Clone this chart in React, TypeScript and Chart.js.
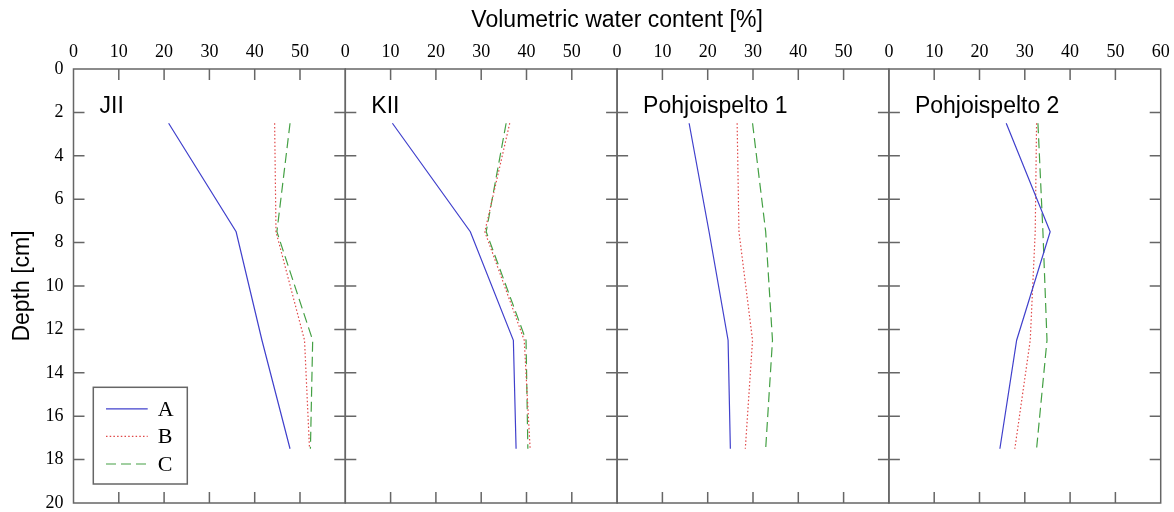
import React, { useEffect, useRef } from 'react';
import { Chart, registerables } from 'chart.js';

Chart.register(...registerables);

// ---- data ----
const depths = [2.5, 7.5, 12.5, 17.5];
const panelNames = ['JII', 'KII', 'Pohjoispelto 1', 'Pohjoispelto 2'];
const seriesNames = ['A', 'B', 'C'];

const jiiA = [21.0, 35.9, 41.6, 47.8];
const jiiB = [44.4, 44.7, 51.0, 52.1];
const jiiC = [47.8, 44.9, 52.8, 52.3];

const kiiA = [10.4, 27.6, 37.1, 37.7];
const kiiB = [36.3, 30.8, 39.5, 40.8];
const kiiC = [35.5, 31.1, 39.9, 40.3];

const p1A = [15.9, 20.3, 24.5, 25.0];
const p1B = [26.5, 26.9, 29.9, 28.3];
const p1C = [29.9, 32.8, 34.3, 32.8];

const p2A = [25.9, 35.6, 28.2, 24.5];
const p2B = [32.6, 32.3, 31.2, 27.8];
const p2C = [32.9, 34.0, 34.9, 32.6];

const panelSeries = [
  [jiiA, jiiB, jiiC],
  [kiiA, kiiB, kiiC],
  [p1A, p1B, p1C],
  [p2A, p2B, p2C],
];

const xTicks = [0, 10, 20, 30, 40, 50, 60];
const yTicks = [0, 2, 4, 6, 8, 10, 12, 14, 16, 18, 20];
const xTitle = 'Volumetric water content [%]';
const yTitle = 'Depth [cm]';

// ---- styles ----
const W = 1174;
const H = 512;
const PANEL_W = 271.8;
const FIRST_LEFT = 73.5;
const TOP = 69;
const BOTTOM = 503;
const FRAME = '#666666';
const SANS = '"Liberation Sans", Arial, sans-serif';
const SERIF = '"Liberation Serif", "Times New Roman", serif';

const seriesStyles = [
  { color: '#4040cc', dash: [] as number[] },
  { color: '#e04848', dash: [1.5, 2.2] },
  { color: '#44a044', dash: [10, 5] },
];

const TICK_LEN = 11;

const decorPlugin = {
  id: 'panelDecor',
  afterDatasetsDraw(chart: any, _args: any, opts: any) {
    const { ctx, chartArea } = chart;
    const { left, right, top, bottom } = chartArea;
    const xs = chart.scales.x;
    const ys = chart.scales.y;
    ctx.save();
    // frame
    ctx.strokeStyle = FRAME;
    ctx.lineWidth = 1.5;
    ctx.setLineDash([]);
    ctx.strokeRect(left, top, right - left, bottom - top);
    // inward ticks
    ctx.beginPath();
    xs.ticks.forEach((t: any) => {
      if (t.value <= xs.min || t.value >= xs.max) return;
      const px = xs.getPixelForValue(t.value);
      ctx.moveTo(px, top);
      ctx.lineTo(px, top + TICK_LEN);
      ctx.moveTo(px, bottom);
      ctx.lineTo(px, bottom - TICK_LEN);
    });
    ys.ticks.forEach((t: any) => {
      if (t.value <= ys.min || t.value >= ys.max) return;
      const py = ys.getPixelForValue(t.value);
      ctx.moveTo(left, py);
      ctx.lineTo(left + TICK_LEN, py);
      ctx.moveTo(right, py);
      ctx.lineTo(right - TICK_LEN, py);
    });
    ctx.stroke();

    // panel label
    ctx.fillStyle = '#000';
    ctx.font = `23px ${SANS}`;
    ctx.textAlign = 'left';
    ctx.textBaseline = 'alphabetic';
    ctx.fillText(opts.label, left + 26, top + 44);

    // shared axis title
    if (opts.title) {
      ctx.textAlign = 'center';
      ctx.fillText(opts.title, (FIRST_LEFT + FIRST_LEFT + 4 * PANEL_W) / 2, 27);
    }

    // legend
    if (opts.legend) {
      const bx = left + 19.8;
      const by = bottom - 115.7;
      const bw = 94;
      const bh = 96.7;
      ctx.fillStyle = '#fff';
      ctx.fillRect(bx, by, bw, bh);
      ctx.strokeStyle = FRAME;
      ctx.lineWidth = 1.5;
      ctx.strokeRect(bx, by, bw, bh);
      ctx.font = `22px ${SERIF}`;
      ctx.textAlign = 'left';
      ctx.textBaseline = 'middle';
      chart.data.datasets.forEach((ds: any, i: number) => {
        const y = by + 21.5 + i * 27.6;
        ctx.strokeStyle = ds.borderColor;
        ctx.lineWidth = 1.2;
        ctx.setLineDash(ds.borderDash || []);
        ctx.beginPath();
        ctx.moveTo(bx + 12.7, y);
        ctx.lineTo(bx + 54.4, y);
        ctx.stroke();
        ctx.fillStyle = '#000';
        ctx.fillText(ds.label, bx + 64.5, y + 1);
      });
    }
    ctx.restore();
  },
};

function Panel({ index }: { index: number }) {
  const ref = useRef<HTMLCanvasElement | null>(null);
  useEffect(() => {
    const canvas = ref.current;
    if (!canvas) return;
    const left = FIRST_LEFT + PANEL_W * index;
    const right = left + PANEL_W;
    const isFirst = index === 0;
    const isLast = index === panelNames.length - 1;
    const datasets = panelSeries[index].map((vals, s) => ({
      label: seriesNames[s],
      data: vals.map((v, k) => ({ x: v, y: depths[k] })),
      showLine: true,
      borderColor: seriesStyles[s].color,
      backgroundColor: seriesStyles[s].color,
      borderDash: seriesStyles[s].dash,
      borderWidth: 1.2,
      pointRadius: 0,
      tension: 0,
    }));
    const chart = new Chart(canvas, {
      type: 'scatter',
      data: { datasets },
      plugins: [decorPlugin],
      options: {
        responsive: false,
        animation: false,
        devicePixelRatio: 1,
        layout: { padding: { left: 0, right: W - right, top: 0, bottom: H - BOTTOM } },
        plugins: {
          legend: { display: false },
          tooltip: { enabled: false },
          panelDecor: { label: panelNames[index], legend: isFirst, title: isFirst ? xTitle : null },
        } as any,
        scales: {
          x: {
            type: 'linear',
            position: 'top',
            min: 0,
            max: 60,
            afterBuildTicks: (s: any) => {
              s.ticks = xTicks.map((v) => ({ value: v }));
            },
            afterFit: (s: any) => {
              s.height = TOP;
              s.paddingLeft = 0;
              s.paddingRight = 0;
              s.paddingTop = 0;
              s.paddingBottom = 0;
            },
            ticks: {
              autoSkip: false,
              maxRotation: 0,
              padding: 6,
              color: '#000',
              font: { family: SERIF, size: 18 },
              callback: (v: any) => (isLast || v !== 60 ? String(v) : ''),
            },
            grid: { display: false, drawTicks: false },
            border: { display: false },
          },
          y: {
            type: 'linear',
            position: 'left',
            reverse: true,
            min: 0,
            max: 20,
            afterBuildTicks: (s: any) => {
              s.ticks = yTicks.map((v) => ({ value: v }));
            },
            afterFit: (s: any) => {
              s.width = left;
              s.paddingLeft = 0;
              s.paddingRight = 0;
              s.paddingTop = 0;
              s.paddingBottom = 0;
            },
            ticks: {
              display: isFirst,
              autoSkip: false,
              padding: 10,
              color: '#000',
              font: { family: SERIF, size: 18, lineHeight: 1 },
            },
            title: {
              display: isFirst,
              text: yTitle,
              color: '#000',
              font: { family: SANS, size: 23 },
              padding: { top: 9, bottom: 0 },
            },
            grid: { display: false, drawTicks: false },
            border: { display: false },
          },
        },
      } as any,
    });
    return () => chart.destroy();
  }, [index]);
  return (
    <canvas
      ref={ref}
      width={W}
      height={H}
      style={{ position: 'absolute', left: 0, top: 0, width: W, height: H }}
    />
  );
}

export default function App() {
  return (
    <div style={{ position: 'absolute', left: 0, top: 0, width: W, height: H, background: '#fff' }}>
      {panelNames.map((_, i) => (
        <Panel key={i} index={i} />
      ))}
    </div>
  );
}
